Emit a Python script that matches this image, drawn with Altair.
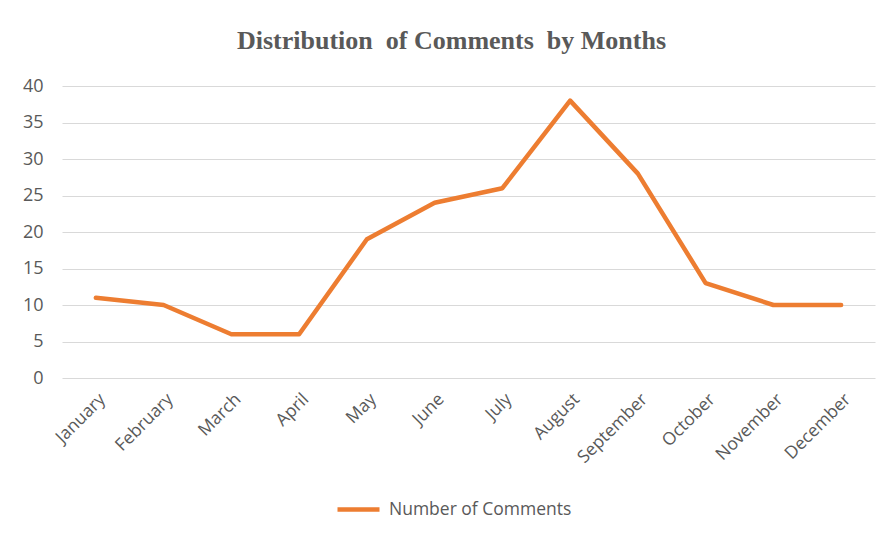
import altair as alt
import pandas as pd

months = ["January", "February", "March", "April", "May", "June", "July",
          "August", "September", "October", "November", "December"]
comments = [11, 10, 6, 6, 19, 24, 26, 38, 28, 13, 10, 10]
series_name = "Number of Comments"
y_ticks = [0, 5, 10, 15, 20, 25, 30, 35, 40]

df = pd.DataFrame({"Month": months, "Comments": comments, "Series": series_name})

chart = alt.Chart(df).mark_line(strokeWidth=4.5, strokeCap="round", strokeJoin="round").encode(
    x=alt.X("Month:N", sort=months, title=None,
            scale=alt.Scale(type="point", padding=0.5),
            axis=alt.Axis(labelAngle=-45, grid=False, ticks=False, domain=False,
                          labelFontSize=17.5, labelPadding=12, labelColor="#595959",
                          labelFont="Open Sans")),
    y=alt.Y("Comments:Q", title=None,
            scale=alt.Scale(domain=[0, 40], nice=False),
            axis=alt.Axis(values=y_ticks, ticks=False, domain=False, gridColor="#D9D9D9",
                          gridWidth=1, labelFontSize=18, labelPadding=19,
                          labelColor="#595959", labelFont="Open Sans")),
    color=alt.Color("Series:N", scale=alt.Scale(range=["#ED7D31"]),
                    legend=alt.Legend(title=None, orient="none", legendX=273, legendY=400,
                                      symbolType="stroke", symbolSize=1764,
                                      symbolStrokeWidth=4.5, labelFontSize=17.5,
                                      labelColor="#595959", labelFont="Open Sans",
                                      labelOffset=7, labelLimit=400)),
).properties(
    width=813, height=292,
    background="white",
    title=alt.TitleParams("Distribution\u00a0 of Comments\u00a0 by Months", font="Liberation Serif",
                          fontSize=26, fontWeight="bold", color="#595959",
                          anchor="middle", dx=-17, offset=23),
    padding={"left": 54, "top": 78, "right": 3, "bottom": 150},
    autosize=alt.AutoSizeParams(type="none"),
).configure_view(strokeWidth=0, stroke="transparent")

chart.save("out.html", embed_options={"renderer": "svg", "actions": False})
